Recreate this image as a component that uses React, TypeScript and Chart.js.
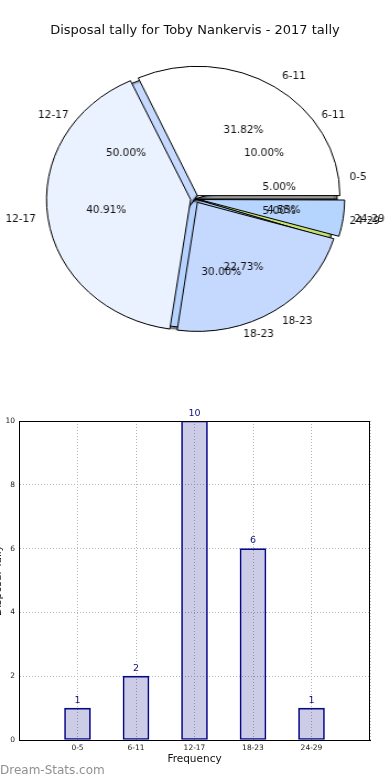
import React, { useEffect, useRef } from 'react';
import { Chart, registerables } from 'chart.js';
Chart.register(...registerables);

const titleText = 'Disposal tally for Toby Nankervis - 2017 tally';
// Pie A: frequency share
const pieACategories = ['0-5', '6-11', '12-17', '18-23', '24-29'];
const pieAValues = [1, 2, 10, 6, 1];
const pieAColors = ['#9a9a9a', '#ffffff', '#c6d9ff', '#b6d3ff', '#c8e070'];
// Pie B: second overlaid pie
const pieBCategories = ['6-11', '12-17', '18-23', '24-29'];
const pieBValues = [7, 9, 5, 1];
const pieBColors = ['#ffffff', '#ebf2ff', '#c5d9ff', '#b5d5ff'];
// Bar chart
const barCategories = ['0-5', '6-11', '12-17', '18-23', '24-29'];
const barValues = [1, 2, 10, 6, 1];
const yTickStep = 2;

const FONT = '"DejaVu Sans", sans-serif';
const PIE_CSS_W = 390;
const PIE_CSS_H = 390;
const PIE_W = 354; // canvas width, stretched to 390 css -> elliptical pie like reference
const K = PIE_CSS_W / PIE_W;

function drawPieLabels(ctx: CanvasRenderingContext2D, chart: any) {
  const meta = chart.getDatasetMeta(0);
  const ds = chart.data.datasets[0];
  const labels = chart.data.labels as string[];
  const vals = ds.data as number[];
  const total = vals.reduce((a, b) => a + b, 0);
  const off = ((ds.offset as number) || 0) / 4;
  ctx.save();
  ctx.scale(1 / K, 1);
  ctx.fillStyle = '#111';
  ctx.font = `10.5px ${FONT}`;
  ctx.textBaseline = 'middle';
  meta.data.forEach((arc: any, i: number) => {
    const { x, y, startAngle, endAngle, outerRadius } = arc.getProps(['x', 'y', 'startAngle', 'endAngle', 'outerRadius'], true);
    const mid = (startAngle + endAngle) / 2;
    const c = Math.cos(mid);
    const s = Math.sin(mid);
    const cx = x + c * off;
    const cy = y + s * off;
    const lx = cx + c * outerRadius * 1.1;
    const ly = cy + s * outerRadius * 1.1;
    ctx.textAlign = c >= 0 ? 'left' : 'right';
    ctx.fillText(labels[i], lx * K, ly);
    const px = cx + c * outerRadius * 0.6;
    const py = cy + s * outerRadius * 0.6;
    ctx.textAlign = 'center';
    ctx.fillText(((vals[i] / total) * 100).toFixed(2) + '%', px * K, py);
  });
  ctx.restore();
}

export default function App() {
  const pieARef = useRef<HTMLCanvasElement>(null);
  const pieBRef = useRef<HTMLCanvasElement>(null);
  const barRef = useRef<HTMLCanvasElement>(null);

  useEffect(() => {
    document.body.style.margin = '0';
    let chartA: any = null;

    const shadowPlugin = {
      id: 'pieShadow',
      beforeDatasetsDraw(chart: any) {
        const ctx = chart.ctx;
        ctx.save();
        ctx.shadowColor = 'rgba(0,0,0,0.5)';
        ctx.shadowOffsetX = -2;
        ctx.shadowOffsetY = 2;
        ctx.shadowBlur = 1.5;
      },
      afterDatasetsDraw(chart: any) {
        chart.ctx.restore();
      },
    };

    const pieOptions: any = {
      animation: false,
      responsive: false,
      maintainAspectRatio: false,
      rotation: 90,
      radius: 129,
      layout: { padding: { left: 0, right: 0, top: 8, bottom: 0 } },
      plugins: { legend: { display: false }, tooltip: { enabled: false }, title: { display: false } },
    };

    chartA = new Chart(pieARef.current as HTMLCanvasElement, {
      type: 'pie',
      data: {
        labels: [...pieACategories].reverse(),
        datasets: [
          {
            data: [...pieAValues].reverse(),
            backgroundColor: [...pieAColors].reverse(),
            borderColor: '#000',
            borderWidth: 1,
          },
        ],
      },
      options: pieOptions,
      plugins: [shadowPlugin],
    });

    const labelPlugin = {
      id: 'pieLabels',
      afterDatasetsDraw(chart: any) {
        if (chartA) drawPieLabels(chart.ctx, chartA);
        drawPieLabels(chart.ctx, chart);
      },
    };

    const chartB = new Chart(pieBRef.current as HTMLCanvasElement, {
      type: 'pie',
      data: {
        labels: [...pieBCategories].reverse(),
        datasets: [
          {
            data: [...pieBValues].reverse(),
            backgroundColor: [...pieBColors].reverse(),
            borderColor: '#000',
            borderWidth: 1,
            offset: 16,
          } as any,
        ],
      },
      options: pieOptions,
      plugins: [labelPlugin],
    });

    const framePlugin = {
      id: 'frame',
      afterDraw(chart: any) {
        const { ctx, chartArea } = chart;
        ctx.save();
        ctx.strokeStyle = '#000';
        ctx.lineWidth = 1;
        ctx.strokeRect(chartArea.left + 0.5, chartArea.top + 0.5, chartArea.right - chartArea.left - 1, chartArea.bottom - chartArea.top);
        ctx.restore();
      },
    };

    const valuePlugin = {
      id: 'barValues',
      afterDraw(chart: any) {
        const ctx = chart.ctx;
        const meta = chart.getDatasetMeta(0);
        ctx.save();
        ctx.fillStyle = '#14147a';
        ctx.font = `9.5px ${FONT}`;
        ctx.textAlign = 'center';
        ctx.textBaseline = 'bottom';
        meta.data.forEach((bar: any, i: number) => {
          ctx.fillText(String(barValues[i]), bar.x, bar.y - 3);
        });
        ctx.restore();
      },
    };

    const barChart = new Chart(barRef.current as HTMLCanvasElement, {
      type: 'bar',
      data: {
        datasets: [
          {
            data: barCategories.map((_, i) => ({ x: i, y: barValues[i] })),
            backgroundColor: 'rgba(0,0,128,0.2)',
            borderColor: '#0a0a8a',
            borderWidth: 1,
            borderSkipped: false,
            barThickness: 26,
          } as any,
        ],
      },
      options: {
        animation: false,
        responsive: false,
        maintainAspectRatio: false,
        layout: { padding: { top: 21, right: 20, left: 0, bottom: 14 } },
        plugins: { legend: { display: false }, tooltip: { enabled: false } },
        scales: {
          x: {
            type: 'linear',
            min: -1,
            max: 5,
            offset: false,
            ticks: {
              stepSize: 1,
              autoSkip: false,
              maxRotation: 0,
              padding: 4,
              color: '#222',
              font: { family: FONT, size: 7.5 },
              callback: (v: any) => (barCategories[v as number] !== undefined ? barCategories[v as number] : ''),
            },
            grid: { drawTicks: false, color: '#b5b5b5', offset: false },
            border: { display: true, color: '#000', width: 1, dash: [1, 2] },
            title: { display: true, text: 'Frequency', color: '#111', font: { family: FONT, size: 10.5 }, padding: { top: 0, bottom: 0 } },
            afterFit: (s: any) => {
              s.height = 26;
            },
          } as any,
          y: {
            min: 0,
            max: 10,
            ticks: { stepSize: yTickStep, padding: 4, color: '#222', font: { family: FONT, size: 7.5 } },
            grid: { drawTicks: false, color: '#b5b5b5' },
            border: { display: true, color: '#000', width: 1, dash: [1, 2] },
            title: { display: true, text: 'Disposal Tally', color: '#111', font: { family: FONT, size: 10.5 }, padding: { top: -8.1, bottom: 0 } },
            afterFit: (s: any) => {
              s.width = 19;
            },
          } as any,
        },
      },
      plugins: [framePlugin, valuePlugin],
    });

    return () => {
      chartB.destroy();
      chartA.destroy();
      barChart.destroy();
    };
  }, []);

  return (
    <div style={{ position: 'relative', width: 390, height: 780, background: '#fff', overflow: 'hidden' }}>
      <canvas
        ref={pieARef}
        width={PIE_W}
        height={PIE_CSS_H}
        style={{ position: 'absolute', left: 0, top: 0, width: PIE_CSS_W + 'px', height: PIE_CSS_H + 'px' }}
      />
      <canvas
        ref={pieBRef}
        width={PIE_W}
        height={PIE_CSS_H}
        style={{ position: 'absolute', left: 0, top: 0, width: PIE_CSS_W + 'px', height: PIE_CSS_H + 'px' }}
      />
      <div
        style={{
          position: 'absolute',
          top: 22,
          left: 0,
          width: 390,
          textAlign: 'center',
          fontFamily: FONT,
          fontSize: 13,
          lineHeight: '16px',
          color: '#111',
        }}
      >
        {titleText}
      </div>
      <canvas
        ref={barRef}
        width={390}
        height={380}
        style={{ position: 'absolute', left: 0, top: 400, width: '390px', height: '380px' }}
      />
      <div
        style={{
          position: 'absolute',
          left: 0,
          top: 762,
          fontFamily: FONT,
          fontSize: 12,
          lineHeight: '16px',
          color: '#909090',
        }}
      >
        Dream-Stats.com
      </div>
    </div>
  );
}
